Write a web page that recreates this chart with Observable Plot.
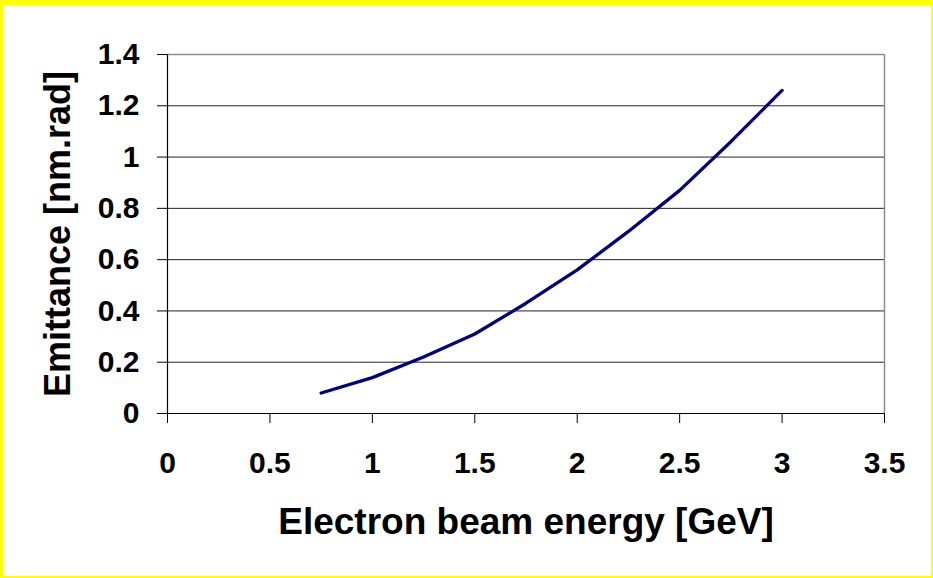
<!DOCTYPE html>
<html><head><meta charset="utf-8">
<script src="https://cdn.jsdelivr.net/npm/d3@7"></script>
<script src="https://cdn.jsdelivr.net/npm/@observablehq/plot@0.6"></script>
<style>
body{margin:0;background:#fff}
#frame{width:928px;height:571px;border-style:solid;border-color:#ffff00;border-width:5px 2px 2px 3px;background:#fff;overflow:hidden}
#frame svg{display:block}
</style></head><body><div id="frame"></div>
<script>
const energy = [0.75, 1, 1.25, 1.5, 1.75, 2, 2.25, 2.5, 2.75, 3];
const emittance = [0.08, 0.14, 0.22, 0.31, 0.43, 0.56, 0.71, 0.87, 1.06, 1.26];
const xTicks = [0, 0.5, 1, 1.5, 2, 2.5, 3, 3.5];
const yTicks = [0, 0.2, 0.4, 0.6, 0.8, 1, 1.2, 1.4];
const xLabel = "Electron beam energy [GeV]";
const yLabel = "Emittance [nm.rad]";

const data = energy.map((e, i) => ({energy: e, emittance: emittance[i]}));
const font = "'Liberation Sans', Arial, Helvetica, sans-serif";

const chart = Plot.plot({
  width: 928, height: 571,
  marginLeft: 164, marginRight: 47, marginTop: 49, marginBottom: 163,
  style: {fontFamily: font, fontWeight: "bold", color: "#000", background: "#fff"},
  x: {domain: [xTicks[0], xTicks[xTicks.length - 1]], axis: null},
  y: {domain: [yTicks[0], yTicks[yTicks.length - 1]], axis: null},
  marks: [
    Plot.ruleY(yTicks.slice(1, -1), {stroke: "#222", strokeWidth: 1}),
    Plot.ruleY(yTicks.slice(-1), {stroke: "#8c8c8c", strokeWidth: 1.5}),
    Plot.ruleX(xTicks.slice(-1), {stroke: "#8c8c8c", strokeWidth: 1.5}),
    Plot.ruleY(yTicks.slice(0, 1), {stroke: "#000", strokeWidth: 1.2}),
    Plot.ruleX(xTicks.slice(0, 1), {stroke: "#000", strokeWidth: 1.2}),
    Plot.axisX({ticks: xTicks, tickFormat: d => String(d), tickSize: 10, tickPadding: 28,
      fontSize: 30, fontWeight: "bold", label: null, stroke: "#000"}),
    Plot.axisY({ticks: yTicks, tickFormat: d => String(d), tickSize: 10, tickPadding: 18,
      fontSize: 30, fontWeight: "bold", label: null, stroke: "#000"}),
    Plot.line(data, {x: "energy", y: "emittance", stroke: "#000080", strokeWidth: 3.3, curve: "linear"}),
    Plot.text([xLabel], {frameAnchor: "bottom", dy: 109, fontSize: 37, fontWeight: "bold", fill: "#000", textAnchor: "middle", lineAnchor: "middle"}),
    Plot.text([yLabel], {frameAnchor: "left", dx: -109.5, rotate: -90, fontSize: 36, fontWeight: "bold", fill: "#000", textAnchor: "middle", lineAnchor: "middle"})
  ]
});
document.getElementById("frame").appendChild(chart);
</script>
</body></html>
